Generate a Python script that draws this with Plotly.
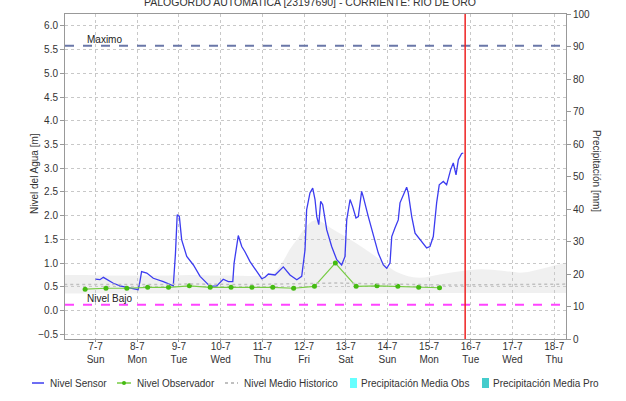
import plotly.graph_objects as go

# ---- data ----
sensor_t = [
    "2024-07-07 00:00", "2024-07-07 02:30", "2024-07-07 04:30", "2024-07-07 06:30",
    "2024-07-07 10:00", "2024-07-07 14:00", "2024-07-07 18:00", "2024-07-07 22:00",
    "2024-07-08 00:30", "2024-07-08 01:30", "2024-07-08 02:30", "2024-07-08 05:30",
    "2024-07-08 09:15", "2024-07-08 15:00", "2024-07-08 19:50", "2024-07-08 20:45",
    "2024-07-08 22:00", "2024-07-08 23:00", "2024-07-09 00:15", "2024-07-09 01:35",
    "2024-07-09 04:30", "2024-07-09 08:20", "2024-07-09 12:10", "2024-07-09 16:00",
    "2024-07-09 17:55", "2024-07-09 21:45", "2024-07-10 01:30", "2024-07-10 04:25",
    "2024-07-10 07:00", "2024-07-10 07:45", "2024-07-10 10:10", "2024-07-10 12:10",
    "2024-07-10 14:00", "2024-07-10 16:55", "2024-07-10 20:45", "2024-07-10 23:40",
    "2024-07-11 01:30", "2024-07-11 03:30", "2024-07-11 07:20", "2024-07-11 10:10",
    "2024-07-11 12:05", "2024-07-11 15:55", "2024-07-11 19:50", "2024-07-11 22:40",
    "2024-07-12 00:35", "2024-07-12 01:30", "2024-07-12 03:25", "2024-07-12 05:00",
    "2024-07-12 06:20", "2024-07-12 07:20", "2024-07-12 08:30", "2024-07-12 09:35",
    "2024-07-12 10:45", "2024-07-12 13:05", "2024-07-12 15:55", "2024-07-12 18:50",
    "2024-07-12 21:40", "2024-07-12 23:35", "2024-07-13 00:35", "2024-07-13 02:30",
    "2024-07-13 04:00", "2024-07-13 05:55", "2024-07-13 07:15", "2024-07-13 09:10",
    "2024-07-13 10:05", "2024-07-13 13:00", "2024-07-13 15:55", "2024-07-13 18:45",
    "2024-07-13 21:40", "2024-07-13 23:35", "2024-07-14 01:30", "2024-07-14 02:30",
    "2024-07-14 04:20", "2024-07-14 06:15", "2024-07-14 07:15", "2024-07-14 09:10",
    "2024-07-14 11:05", "2024-07-14 12:00", "2024-07-14 14:00", "2024-07-14 15:55",
    "2024-07-14 18:45", "2024-07-14 22:35", "2024-07-15 00:30", "2024-07-15 02:25",
    "2024-07-15 04:20", "2024-07-15 05:50", "2024-07-15 08:10", "2024-07-15 10:05",
    "2024-07-15 12:25", "2024-07-15 13:55", "2024-07-15 15:30", "2024-07-15 16:50",
    "2024-07-15 18:45", "2024-07-15 19:40",
]
sensor_v = [
    0.66, 0.65, 0.70, 0.65, 0.58, 0.52, 0.49, 0.45,
    0.44, 0.60, 0.82, 0.79, 0.68, 0.61, 0.54, 0.52,
    1.20, 2.02, 1.98, 1.49, 1.14, 0.96, 0.72, 0.59,
    0.51, 0.52, 0.66, 0.61, 0.61, 1.00, 1.58, 1.35,
    1.24, 1.03, 0.82, 0.67, 0.70, 0.77, 0.75, 0.84,
    0.92, 0.75, 0.65, 0.72, 1.28, 2.12, 2.48, 2.58,
    2.34, 1.98, 1.81, 2.30, 2.23, 1.70, 1.35, 1.07,
    0.96, 1.14, 1.91, 2.34, 2.19, 1.95, 1.98, 2.51,
    2.40, 1.98, 1.56, 1.21, 0.96, 0.89, 1.00, 1.56,
    1.74, 1.91, 2.27, 2.44, 2.60, 2.48, 1.98, 1.63,
    1.49, 1.32, 1.35, 1.56, 2.27, 2.65, 2.72, 2.65,
    2.97, 3.11, 2.86, 3.18, 3.31, 3.32,
]

obs_t = [
    "2024-07-06 18:00", "2024-07-07 06:00", "2024-07-07 18:00", "2024-07-08 06:00",
    "2024-07-08 18:00", "2024-07-09 06:00", "2024-07-09 18:00", "2024-07-10 06:00",
    "2024-07-10 18:00", "2024-07-11 06:00", "2024-07-11 18:00", "2024-07-12 06:00",
    "2024-07-12 18:00", "2024-07-13 06:00", "2024-07-13 18:00", "2024-07-14 06:00",
    "2024-07-14 18:00", "2024-07-15 06:00",
]
obs_v = [0.45, 0.47, 0.47, 0.49, 0.49, 0.52, 0.49, 0.49, 0.49,
         0.49, 0.47, 0.51, 1.00, 0.51, 0.52, 0.51, 0.49, 0.48]

hist_t = [
    "2024-07-06 06:00", "2024-07-06 18:00", "2024-07-07 06:00", "2024-07-07 18:00",
    "2024-07-08 06:00", "2024-07-08 18:00", "2024-07-09 06:00", "2024-07-09 18:00",
    "2024-07-10 06:00", "2024-07-10 18:00", "2024-07-11 06:00", "2024-07-11 18:00",
    "2024-07-12 06:00", "2024-07-12 18:00", "2024-07-13 06:00", "2024-07-13 18:00",
    "2024-07-14 06:00", "2024-07-14 18:00", "2024-07-15 06:00", "2024-07-15 18:00",
    "2024-07-16 06:00", "2024-07-16 18:00", "2024-07-17 06:00", "2024-07-17 18:00",
    "2024-07-18 06:00", "2024-07-18 18:00",
]
hist_mean = [0.55, 0.55, 0.54, 0.54, 0.55, 0.55, 0.56, 0.55, 0.55, 0.55, 0.56, 0.57, 0.58,
             0.58, 0.57, 0.56, 0.55, 0.55, 0.54, 0.54, 0.54, 0.54, 0.55, 0.55, 0.55, 0.56]
hist_max = [0.75, 0.75, 0.74, 0.74, 0.74, 0.74, 0.75, 0.74, 0.74, 0.73, 0.78, 1.40, 1.90,
            1.68, 1.42, 1.12, 0.80, 0.69, 0.76, 0.83, 0.87, 0.84, 0.80, 0.89, 1.00, 1.05]
hist_min = [0.36, 0.36, 0.36, 0.36, 0.36, 0.36, 0.36, 0.36, 0.36, 0.36, 0.36, 0.36, 0.36,
            0.36, 0.36, 0.36, 0.36, 0.36, 0.37, 0.37, 0.37, 0.37, 0.37, 0.37, 0.37, 0.37]

nivel_maximo = 5.58
nivel_bajo = 0.12
now_t = "2024-07-15 20:45"

FONT = "Liberation Sans, Arial, sans-serif"
C_SENSOR = "#3c3cf0"
C_OBS_LINE = "#77cc44"
C_OBS_MARK = "#44bb11"
C_MEAN = "#c0c0c0"
C_P_OBS = "#66ffff"
C_P_PRO = "#44cccc"

fig = go.Figure()

# historic range band
fig.add_trace(go.Scatter(x=hist_t, y=hist_min, mode="lines", line=dict(width=0, shape="spline"),
                         showlegend=False, hoverinfo="skip"))
fig.add_trace(go.Scatter(x=hist_t, y=hist_max, mode="lines", line=dict(width=0, shape="spline"),
                         fill="tonexty", fillcolor="rgba(205,205,205,0.3)",
                         showlegend=False, hoverinfo="skip"))

fig.add_trace(go.Scatter(x=sensor_t, y=sensor_v, mode="lines", name="Nivel Sensor",
                         line=dict(color=C_SENSOR, width=1.3)))
fig.add_trace(go.Scatter(x=obs_t, y=obs_v, mode="lines+markers", name="Nivel Observador",
                         line=dict(color=C_OBS_LINE, width=1.2),
                         marker=dict(color=C_OBS_MARK, size=5)))
fig.add_trace(go.Scatter(x=hist_t, y=hist_mean, mode="lines", name="Nivel Medio Historico",
                         line=dict(color=C_MEAN, width=1.5, dash="dot")))
fig.add_trace(go.Bar(x=[hist_t[0]], y=[0], yaxis="y2", name="Precipitación Media Obs",
                     marker_color=C_P_OBS))
fig.add_trace(go.Bar(x=[hist_t[0]], y=[0], yaxis="y2", name="Precipitación Media Pro",
                     marker_color=C_P_PRO))

# reference levels
fig.add_hline(y=nivel_maximo, line=dict(color="#6a77a8", width=2, dash="dash"))
fig.add_hline(y=nivel_bajo, line=dict(color="#ff44ff", width=2, dash="dash"))
fig.add_shape(type="line", x0=now_t, x1=now_t, y0=0, y1=1, xref="x", yref="paper",
              line=dict(color="#ee2222", width=1.5))

fig.add_annotation(x="2024-07-06 18:00", y=nivel_maximo, text="Maximo", showarrow=False,
                   xanchor="left", yanchor="bottom", yshift=-1,
                   font=dict(family=FONT, size=10, color="#222"))
fig.add_annotation(x="2024-07-06 18:00", y=nivel_bajo, text="Nivel Bajo", showarrow=False,
                   xanchor="left", yanchor="bottom", yshift=-1,
                   font=dict(family=FONT, size=10, color="#222"))

# title sits half above the page top, as in the reference
fig.add_annotation(x=0.489, y=1.037, xref="paper", yref="paper",
                   text="PALOGORDO AUTOMATICA [23197690] - CORRIENTE: RIO DE ORO",
                   showarrow=False, xanchor="center", yanchor="middle",
                   font=dict(family=FONT, size=10.5, color="#333"))

fig.add_annotation(x=-0.076, y=0.509, xref="paper", yref="paper", text="Nivel del Agua [m]",
                   textangle=-90, showarrow=False, font=dict(family=FONT, size=10, color="#333"))
fig.add_annotation(x=1.075, y=0.517, xref="paper", yref="paper", text="Precipitación [mm]",
                   textangle=90, showarrow=False, font=dict(family=FONT, size=10, color="#333"))

# legend row drawn below the plot (plot area is 501 x 325 px)
LY = -0.1354
def px(v):
    return (v - 65) / 501.0

legend_items = [
    ("Nivel Sensor", "line", C_SENSOR, 32, 44, 48),
    ("Nivel Observador", "marker", C_OBS_LINE, 117, 131, 135),
    ("Nivel Medio Historico", "dot", C_MEAN, 225, 238, 242),
    ("Precipitación Media Obs", "box", C_P_OBS, 350, 357, 359),
    ("Precipitación Media Pro", "box", C_P_PRO, 482, 489, 491),
]
for name, kind, color, s0, s1, tx in legend_items:
    if kind == "box":
        fig.add_shape(type="rect", xref="paper", yref="paper", x0=px(s0), x1=px(s1),
                      y0=LY - 5 / 325, y1=LY + 5 / 325, line=dict(width=0), fillcolor=color)
    else:
        fig.add_shape(type="line", xref="paper", yref="paper", x0=px(s0), x1=px(s1),
                      y0=LY, y1=LY,
                      line=dict(color=color, width=1.5 if kind != "dot" else 2,
                                dash="dot" if kind == "dot" else "solid"))
    if kind == "marker":
        m = (s0 + s1) / 2
        fig.add_shape(type="circle", xref="paper", yref="paper", x0=px(m - 2), x1=px(m + 2),
                      y0=LY - 2 / 325, y1=LY + 2 / 325, line=dict(width=0),
                      fillcolor=C_OBS_MARK)
    fig.add_annotation(x=px(tx), y=LY, xref="paper", yref="paper", text=name,
                       showarrow=False, xanchor="left", yanchor="middle",
                       font=dict(family=FONT, size=10, color="#333"))

grid = dict(showgrid=True, gridcolor="#c8c8c8", griddash="dot", gridwidth=1)

fig.update_layout(
    width=626, height=401,
    margin=dict(l=65, r=60, t=14, b=62),
    paper_bgcolor="white", plot_bgcolor="white",
    font=dict(family=FONT, size=10, color="#333"),
    xaxis=dict(type="date", range=["2024-07-06 06:25", "2024-07-18 06:48"],
               tick0="2024-07-07", dtick=86400000, tickformat="%-d-%-m<br>%a",
               showline=True, linecolor="#999", mirror=True, ticks="outside", ticklen=2,
               tickcolor="#999", tickfont=dict(size=10), ticklabelstandoff=-4,
               automargin=False, **grid),
    yaxis=dict(range=[-0.6, 6.25], dtick=0.5, tickformat=".1f", zeroline=False,
               showline=True, linecolor="#999", ticks="outside", ticklen=4, tickcolor="#999",
               automargin=False, **grid),
    yaxis2=dict(overlaying="y", side="right", range=[0, 100], dtick=10, showgrid=False,
                zeroline=False, showline=True, linecolor="#999", ticks="outside", ticklen=4,
                tickcolor="#999", automargin=False),
    showlegend=False,
)

# drop the browser's default page margin so the figure sits at the window's corner
fig.write_html("out.html", config={"displayModeBar": False},
               post_script="document.body.style.margin='0';")
